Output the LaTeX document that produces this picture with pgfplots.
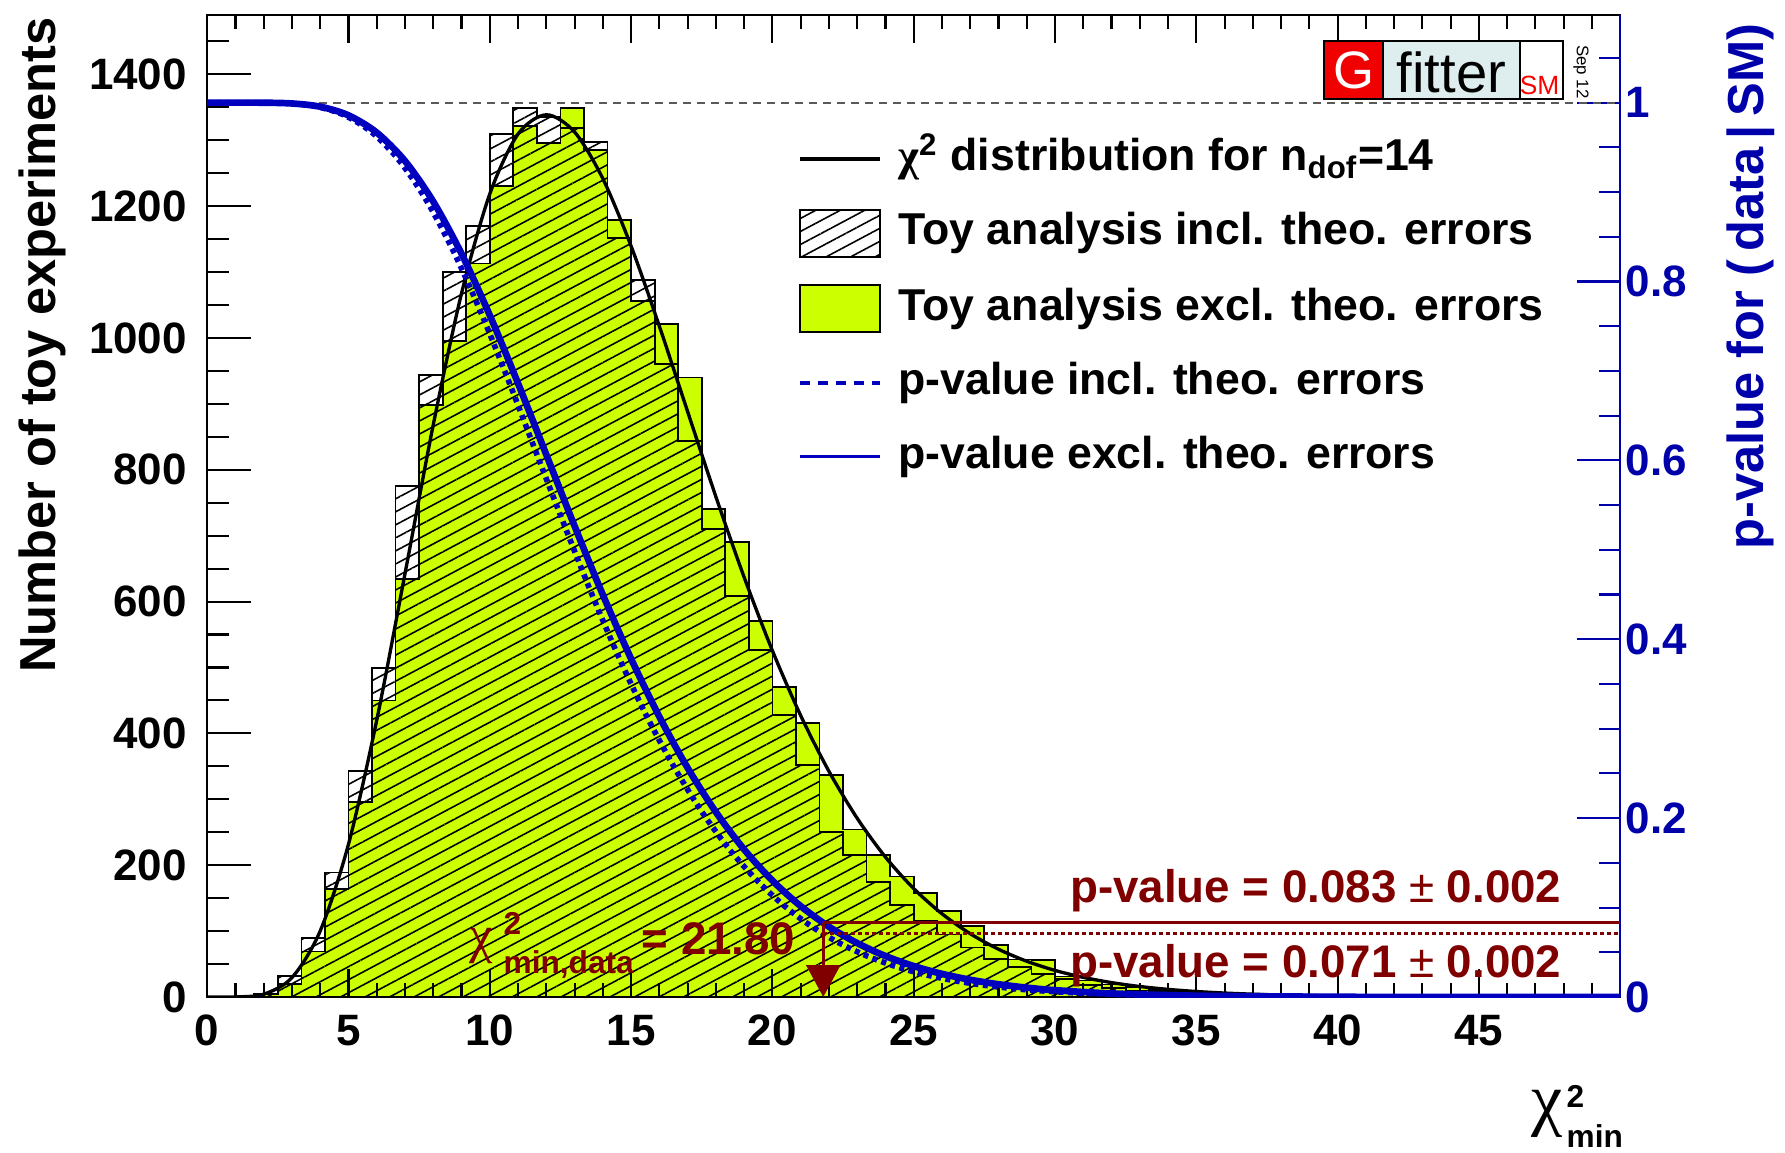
\documentclass[border=0pt]{standalone}
\usepackage{pgfplots}
\pgfplotsset{compat=1.18}
\usepackage{pgfplotstable}
\usetikzlibrary{patterns.meta,arrows.meta}
\usepackage{fontspec}
\setmainfont{Liberation Sans}
\newfontfamily\chifont{Liberation Serif}
\newcommand{\fs}[1]{\fontsize{#1}{#1}\selectfont}
\definecolor{ygreen}{RGB}{204,255,0}
\definecolor{pblue}{RGB}{0,0,190}
\definecolor{axblue}{RGB}{0,0,170}
\definecolor{dred}{RGB}{128,0,0}
\definecolor{logored}{RGB}{240,0,0}
\definecolor{logomid}{RGB}{222,238,238}
\pgfplotsset{
  lineleg/.style={legend image code/.code={\draw[##1] (0cm,0cm) -- (0.8cm,0cm);}},
  boxleg/.style={legend image code/.code={\draw[##1] (0cm,-0.235cm) rectangle (0.8cm,0.235cm);}},
}

\pgfplotstableread{
x yel hat
0 0 0
0.8333 0 0
1.6667 4 5
2.5 20 32
3.3333 69 89
4.1667 164 189
5 296 343
5.8333 450 499
6.6667 634 775
7.5 898 944
8.3333 995 1100
9.1667 1113 1170
10 1230 1310
10.8333 1321 1349
11.6667 1296 1335
12.5 1349 1319
13.3333 1285 1297
14.1667 1179 1152
15 1056 1088
15.8333 1021 961
16.6667 940 844
17.5 740 710
18.3333 690 609
19.1667 571 527
20 470 428
20.8333 416 352
21.6667 337 250
22.5 254 215
23.3333 215 175
24.1667 183 140
25 158 115
25.8333 130 95
26.6667 108 75
27.5 79 58
28.3333 57 45
29.1667 56 35
30 31 27
30.8333 25 18
31.6667 19 14
32.5 15 10
33.3333 11 8
34.1667 9 6
35 7 4
35.8333 5 3
36.6667 4 2
37.5 3 2
38.3333 2 1
39.1667 2 1
40 1 1
40.8333 1 0
41.6667 0 0
42.5 0 0
43.3333 0 0
44.1667 0 0
45 0 0
45.8333 0 0
46.6667 0 0
47.5 0 0
48.3333 0 0
49.1667 0 0
50 0 0
}\histdata

\begin{document}
\begin{tikzpicture}
\useasboundingbox (0,0) rectangle (17.85,11.52);

% ---------- main axis: histograms, chi2 curve, x ticks ----------
\begin{axis}[
  at={(2.072cm,1.55cm)}, anchor=south west, scale only axis,
  width=14.13cm, height=9.82cm,
  xmin=0, xmax=50, ymin=0, ymax=1490,
  axis on top, tick align=inside,
  xtick={0,5,...,45}, minor xtick={1,2,...,49},
  xticklabel pos=lower,
  ytick=\empty,
  major tick length=0.277cm, minor tick length=0.143cm,
  tick style={black, line width=0.6pt},
  axis line style={line width=0.6pt},
  /pgf/number format/assume math mode=true,
  tick label style={font=\fs{12.5}\bfseries},
  xticklabel style={yshift=-0.055cm},
]
\addplot[const plot, fill=ygreen, draw=black, line width=0.5pt]
  table[x=x, y=yel] {\histdata} \closedcycle;
\addplot[const plot, draw=black, line width=0.5pt,
  pattern={Lines[angle=28, distance=1.15mm, line width=0.45pt]}, pattern color=black]
  table[x=x, y=hat] {\histdata} \closedcycle;
\addplot[black, line width=0.95pt, smooth] coordinates {
(0,0) (1,0.11) (2,4.26) (3,29.42) (4,100.25) (5,231.95) (6,420.1) (7,642.5) (8,868.3)
(9,1067.7) (10,1218.5) (11,1309.4) (12,1338.6) (13,1312.4) (14,1241.7) (15,1139.3)
(16,1017.8) (17,888.2) (18,759.1) (19,636.9) (20,525.5) (21,427.1) (22,342.5)
(23,271.2) (24,212.3) (25,164.5) (26,126.3) (27,96.06) (28,72.47) (29,54.26)
(30,40.33) (31,29.78) (32,21.85) (33,15.94) (34,11.57) (35,8.35) (36,5.99)
(37,4.29) (38,3.05) (40,1.53) (42,0.75) (45,0.25) (50,0.05)};
\end{axis}

% ---------- left y axis ticks ----------
\begin{axis}[
  at={(2.072cm,1.55cm)}, anchor=south west, scale only axis,
  width=14.13cm, height=9.82cm,
  xmin=0, xmax=50, ymin=0, ymax=1490,
  axis on top, tick align=inside,
  xtick=\empty, ytick pos=left,
  ytick={0,200,...,1400}, minor ytick={50,100,...,1450},
  major tick length=0.44cm, minor tick length=0.22cm,
  tick style={black, line width=0.6pt},
  axis line style={line width=0.6pt},
  /pgf/number format/assume math mode=true,
  /pgf/number format/set thousands separator={},
  tick label style={font=\fs{12.5}\bfseries},
  yticklabel style={xshift=-0.08cm},
]
\end{axis}

% ---------- right p-value axis ----------
\begin{axis}[
  at={(2.072cm,1.55cm)}, anchor=south west, scale only axis,
  width=14.13cm, height=9.82cm,
  xmin=0, xmax=50, ymin=0, ymax=1.098,
  axis x line=none, axis y line*=right,
  axis line style={-}, y axis line style={axblue, line width=0.6pt, -},
  tick align=inside, xtick=\empty,
  ytick={0,0.2,0.4,0.6,0.8,1},
  minor ytick={0.05,0.1,0.15,0.25,0.3,0.35,0.45,0.5,0.55,0.65,0.7,0.75,0.85,0.9,0.95,1.05},
  major tick length=0.43cm, minor tick length=0.215cm,
  tick style={axblue, line width=0.6pt},
  /pgf/number format/assume math mode=true,
  tick label style={font=\fs{12.5}\bfseries},
  yticklabel style={text=axblue, xshift=-0.07cm},
  legend cell align=left,
  legend style={at={(0.4174,0.878)}, anchor=north west, draw=none, fill=none,
    inner sep=0pt, row sep=0.265cm, font=\fs{12.7}\bfseries,
    nodes={inner sep=0pt, text height=0.35cm, text depth=0.12cm},
    /tikz/every odd column/.append style={column sep=0.17cm}},
]
\addplot[gray!70!black, line width=0.6pt, dash pattern=on 0.8mm off 0.6mm, forget plot]
  coordinates {(0,1) (50,1)};
\addplot[pblue, line width=1.6pt, dash pattern=on 0.5mm off 0.45mm, smooth, forget plot] coordinates {
(0,1) (0.973,1) (1.946,0.99991) (2.918,0.99906) (3.891,0.99547) (4.864,0.98581)
(5.837,0.96649) (6.810,0.93471) (7.782,0.88933) (8.755,0.83105) (9.728,0.76218)
(10.70,0.68604) (11.67,0.6063) (12.65,0.52652) (13.62,0.44971) (14.59,0.37815)
(15.56,0.31337) (16.54,0.25618) (17.51,0.20679) (18.48,0.16495) (19.46,0.13014)
(20.43,0.10163) (21.40,0.07861) (22.37,0.06027) (23.35,0.04582) (24.32,0.03457)
(25.29,0.02589) (26.27,0.01925) (27.24,0.01423) (28.21,0.01045) (29.18,0.00763)
(31.13,0.00401) (34.05,0.00147) (38.91,0.000255) (43.78,0.00003) (48.64,0) (50,0)};
\addplot[pblue, line width=1.9pt, smooth, forget plot] coordinates {
(0,1) (1,1) (2,0.99991) (3,0.99906) (4,0.99547) (5,0.98581) (6,0.96649) (7,0.93471)
(8,0.88933) (9,0.83105) (10,0.76218) (11,0.68604) (12,0.6063) (13,0.52652)
(14,0.44971) (15,0.37815) (16,0.31337) (17,0.25618) (18,0.20679) (19,0.16495)
(20,0.13014) (21,0.10163) (22,0.07861) (23,0.06027) (24,0.04582) (25,0.03457)
(26,0.02589) (27,0.01925) (28,0.01423) (29,0.01045) (30,0.00763) (32,0.00401)
(35,0.00147) (40,0.000255) (45,0.00003) (50,0)};
\addplot[dred, line width=0.95pt, forget plot] coordinates {(21.8,0.083) (50,0.083)};
\addplot[dred, line width=0.75pt, dash pattern=on 0.35mm off 0.35mm, forget plot]
  coordinates {(21.8,0.071) (50,0.071)};
\addplot[dred, line width=0.8pt, -{Triangle[width=3.4mm,length=3.2mm]}, forget plot]
  coordinates {(21.8,0.083) (21.8,0)};

\addlegendimage{black, line width=0.95pt, lineleg}
\addlegendentry{{\chifont χ}\textsuperscript{2} distribution for n\textsubscript{dof}=14}
\addlegendimage{draw=black, line width=0.5pt, pattern={Lines[angle=28, distance=1.15mm, line width=0.45pt]}, boxleg}
\addlegendentry{Toy analysis incl. theo. errors}
\addlegendimage{draw=black, fill=ygreen, line width=0.5pt, boxleg}
\addlegendentry{Toy analysis excl. theo. errors}
\addlegendimage{pblue, line width=1.1pt, dash pattern=on 1mm off 0.8mm, lineleg}
\addlegendentry{p-value incl. theo. errors}
\addlegendimage{pblue, line width=1.1pt, lineleg}
\addlegendentry{p-value excl. theo. errors}
\end{axis}

% ---------- annotations (page coordinates, cm) ----------
\node[anchor=base east, inner sep=0, text=dred, font=\fs{13}\bfseries] at (15.62,2.49)
  {p-value = 0.083 {\mdseries ±} 0.002};
\node[anchor=base east, inner sep=0, text=dred, font=\fs{13}\bfseries] at (15.62,1.744)
  {p-value = 0.071 {\mdseries ±} 0.002};
\node[anchor=base west, inner sep=0, text=dred] at (4.69,2.00) {\fs{15}\chifont χ};
\node[anchor=base west, inner sep=0, text=dred] at (5.03,2.18) {\fs{9}\bfseries 2};
\node[anchor=base west, inner sep=0, text=dred] at (5.03,1.79) {\fs{9}\bfseries min,data};
\node[anchor=base west, inner sep=0, text=dred] at (6.41,1.98) {\fs{13}\bfseries = 21.80};

% axis titles
\node[rotate=90, anchor=east, inner sep=0, font=\fs{14.4}\bfseries] at (0.42,11.35)
  {Number of toy experiments};
\node[rotate=90, anchor=east, inner sep=0, font=\fs{14.4}\bfseries, text=axblue] at (17.51,11.29)
  {p-value for (\,data\,|\,SM)};
\node[anchor=base west, inner sep=0] at (15.31,0.30) {\fs{20}\chifont χ};
\node[anchor=base west, inner sep=0] at (15.66,0.45) {\fs{9}\bfseries 2};
\node[anchor=base west, inner sep=0] at (15.66,0.05) {\fs{9}\bfseries min};

% Gfitter logo
\fill[logored] (13.24,10.53) rectangle (13.83,11.11);
\fill[logomid] (13.83,10.53) rectangle (15.20,11.11);
\fill[white] (15.20,10.53) rectangle (15.63,11.11);
\draw[line width=0.6pt] (13.24,10.53) rectangle (15.63,11.11);
\draw[line width=0.6pt] (13.83,10.53) -- (13.83,11.11);
\draw[line width=0.6pt] (15.20,10.53) -- (15.20,11.11);
\node[text=white, inner sep=0] at (13.535,10.82) {\fs{15}G};
\node[inner sep=0] at (14.515,10.80) {\fs{16}fitter};
\node[text=red, anchor=south east, inner sep=0] at (15.60,10.57) {\fs{7.5}SM};
\node[rotate=-90, inner sep=0] at (15.81,10.80) {\fs{4.8}Sep 12};
\end{tikzpicture}
\end{document}
